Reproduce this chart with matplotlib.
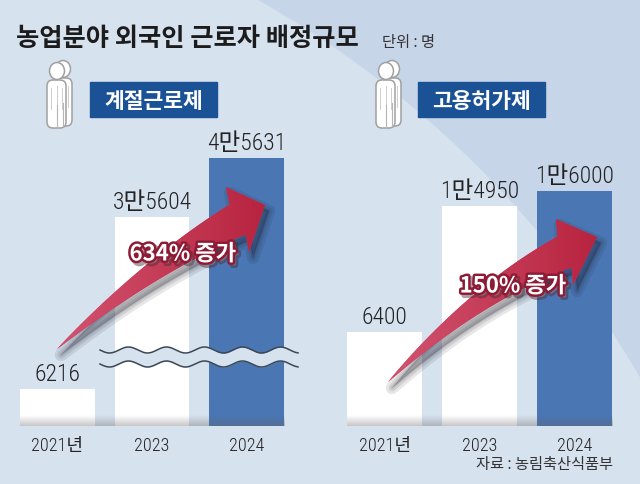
import numpy as np
import matplotlib
matplotlib.use("Agg")
import matplotlib.pyplot as plt
import matplotlib.patheffects as pe
from matplotlib import font_manager
from matplotlib.patches import Circle, Rectangle, Polygon, Ellipse, FancyBboxPatch

plt.rcParams["font.family"] = ["Noto Sans CJK KR", "DejaVu Sans"]

# data
years = ["2021년", "2023", "2024"]
seasonal = [6216, 35604, 45631]
seasonal_labels = ["6216", "3만5604", "4만5631"]
permit = [6400, 14950, 16000]
permit_labels = ["6400", "1만4950", "1만6000"]
panel_names = ["계절근로제", "고용허가제"]
growth_texts = ["634% 증가", "150% 증가"]

W, H = 640, 485
LIGHT = "#d7e2ef"
DARK = "#c7d5e9"
BLUE = "#4a77b4"
BOX = "#1b5296"
RED = "#c4385a"

installed = {f.name for f in font_manager.fontManager.ttflist}
narrow = "DejaVu Sans"
for cand in ["Roboto Condensed", "Liberation Sans Narrow", "Archivo Narrow", "PT Sans Narrow",
             "Fira Sans Condensed", "IBM Plex Sans Condensed", "Encode Sans Condensed",
             "Open Sans Condensed", "Barlow Condensed", "Asap Condensed"]:
    if cand in installed:
        narrow = cand
        break
NUM_FONT = [narrow, "Noto Sans CJK KR"]

fig = plt.figure(figsize=(6.4, 4.85), dpi=100)


def px_axes(x0, y0, x1, y1, **kw):
    """Axes placed by a pixel box, origin top-left."""
    return fig.add_axes([x0 / W, 1 - y1 / H, (x1 - x0) / W, (y1 - y0) / H], **kw)


def pixel_canvas(zorder):
    ax = px_axes(0, 0, W, H, zorder=zorder)
    ax.set_xlim(0, W)
    ax.set_ylim(H, 0)
    ax.axis("off")
    ax.patch.set_visible(False)
    return ax


def draw_person(ax, x, y):
    # two offset silhouettes give the 3d look
    edge = "#a0a0a0"
    for dx, dy in [(6, 0), (0, 2)]:
        ax.add_patch(FancyBboxPatch((x + dx, y + dy + 17), 19, 48,
                                    boxstyle="round,pad=0,rounding_size=6",
                                    fc="white", ec=edge, lw=1.1))
        ax.add_patch(Ellipse((x + dx + 10, y + dy + 8), 15, 17,
                             fc="white", ec=edge, lw=1.1))
        ax.plot([x + dx + 9.5, x + dx + 9.5], [y + dy + 42, y + dy + 65], color="#b5b5b5", lw=0.8)
        ax.plot([x + dx + 4, x + dx + 4], [y + dy + 25, y + dy + 46], color="#c5c5c5", lw=0.6)
        ax.plot([x + dx + 15, x + dx + 15], [y + dy + 25, y + dy + 46], color="#c5c5c5", lw=0.6)


def swoosh(ax, tail, tip, corner_a, corner_b, shaft_w):
    tail, tip = np.array(tail, float), np.array(tip, float)
    ca, cb = np.array(corner_a, float), np.array(corner_b, float)
    m = (ca + cb) / 2
    u = (tip - m) / np.linalg.norm(tip - m)
    c = m - u * 0.45 * np.linalg.norm(m - tail)
    t = np.linspace(0, 1, 60)[:, None]
    pts = (1 - t) ** 2 * tail + 2 * (1 - t) * t * c + t ** 2 * m
    der = 2 * (1 - t) * (c - tail) + 2 * t * (m - c)
    der /= np.linalg.norm(der, axis=1, keepdims=True)
    nrm = np.column_stack([-der[:, 1], der[:, 0]])
    half = shaft_w / 2 * t ** 0.9
    side1 = pts + nrm * half
    side2 = pts - nrm * half
    if np.dot(ca - m, nrm[-1]) < 0:
        ca, cb = cb, ca
    outline = np.vstack([side1, ca, tip, cb, side2[::-1]])

    # soft shadow
    for lw in [9, 5, 2]:
        ax.add_patch(Polygon(outline + [4, 6], closed=True, fc=(0.1, 0.1, 0.15, 0.10),
                             ec=(0.1, 0.1, 0.15, 0.10), lw=lw, joinstyle="round"))
    body = Polygon(outline, closed=True, fc=RED, ec="none")
    ax.add_patch(body)
    # colour gradient clipped to the arrow
    x0, y0 = outline.min(axis=0)
    x1, y1 = outline.max(axis=0)
    g = np.linspace(0, 1, 200)
    c0 = np.array(matplotlib.colors.to_rgb("#d25470"))
    c1 = np.array(matplotlib.colors.to_rgb("#b8243f"))
    grad = (c0[None, :] * (1 - g[:, None]) + c1[None, :] * g[:, None])[None, :, :]
    im = ax.imshow(grad, extent=(x0, x1, y1, y0), aspect="auto", zorder=body.get_zorder() + 0.1)
    im.set_clip_path(body)


# background
bg = pixel_canvas(0)
bg.add_patch(Rectangle((0, 0), W, H, color=DARK))
bg.add_patch(Circle((-241, 888), 1017, color=LIGHT))

bg.text(16, 39, "농업분야 외국인 근로자 배정규모", fontsize=18.2, weight="bold",
        color="#1c1c1c", ha="left", va="center")
bg.text(382, 42, "단위 : 명", fontsize=11, color="#333333", ha="left", va="center")

for name, bx, px in zip(panel_names, [90, 418], [47, 376]):
    draw_person(bg, px, 62)
    bg.add_patch(Rectangle((bx, 83), 127, 35, color=BOX))
    bg.text(bx + 63.5, 101, name, fontsize=15.5, weight="bold", color="white",
            ha="center", va="center")

# divider shadow between the panels
rows, cols = 120, 20
vert = np.sin(np.linspace(0, np.pi, rows)) ** 0.8
horiz = np.exp(-np.linspace(0, 4, cols)) * 0.55
shade = np.zeros((rows, cols, 4))
shade[..., :3] = (0.35, 0.40, 0.48)
shade[..., 3] = vert[:, None] * horiz[None, :]
bg.imshow(shade, extent=(315, 325, 453, 137), aspect="auto", interpolation="bilinear")

bg.text(613, 465, "자료 : 농림축산식품부", fontsize=11, color="#333333", ha="right", va="center")


# bar panels
def bar_panel(box, values, labels, ymax):
    ax = px_axes(*box, zorder=2)
    ax.patch.set_visible(False)
    x = np.arange(len(values))
    ax.bar(x, values, width=0.79, color=["white", "white", BLUE], zorder=2)
    for xi, v, lab in zip(x, values, labels):
        ax.annotate(lab, (xi, v), xytext=(0, 6.5), textcoords="offset points",
                    ha="center", va="baseline", fontsize=17, family=NUM_FONT,
                    weight="light", color="#222222")
    ax.set_xlim(-0.5, len(values) - 0.5)
    ax.set_ylim(0, ymax)
    ax.set_xticks(x, years)
    for lab in ax.get_xticklabels():
        lab.set_family(NUM_FONT)
        lab.set_fontsize(13)
        lab.set_weight("light")
        lab.set_color("#222222")
    ax.tick_params(axis="x", length=0, pad=7)
    ax.set_yticks([])
    for s in ax.spines.values():
        s.set_visible(False)
    # grey fade along the foot of the bars
    fade = np.zeros((30, 2, 4))
    fade[..., :3] = (0.40, 0.37, 0.37)
    fade[..., 3] = np.linspace(0, 0.35, 30)[:, None]
    ax.imshow(fade, extent=(0.035, 0.965, 0, 11 / 294), transform=ax.transAxes,
              aspect="auto", zorder=3, interpolation="bilinear")
    return ax


bar_panel((10, 133, 294, 427), seasonal, seasonal_labels, 50000)
bar_panel((337, 133, 622, 427), permit, permit_labels, 20000)

# overlay: axis break, arrows, growth labels
ov = pixel_canvas(5)
wx = np.linspace(100, 298, 400)
wy = 351 + 3 * np.sin(2 * np.pi * (wx - 100) / 38)
ov.fill_between(wx, wy, wy + 14, color=LIGHT, lw=0)
ov.plot(wx, wy, color="#3c4756", lw=1.1)
ov.plot(wx, wy + 14, color="#3c4756", lw=1.1)

swoosh(ov, (57, 350), (265, 206), (226, 188), (249, 253), 34)
swoosh(ov, (388, 383), (597, 238), (556, 220), (573, 286), 34)

for txt, (tx, ty) in zip(growth_texts, [(183, 255), (513, 287)]):
    ov.text(tx, ty, txt, fontsize=16, weight="heavy", color="white", ha="center", va="center",
            path_effects=[pe.Stroke(offset=(2, -2), linewidth=4, foreground="#4a2a33", alpha=0.45),
                          pe.Stroke(linewidth=3.5, foreground="#8e1b36"), pe.Normal()])

fig.savefig("out.png", dpi=100)
